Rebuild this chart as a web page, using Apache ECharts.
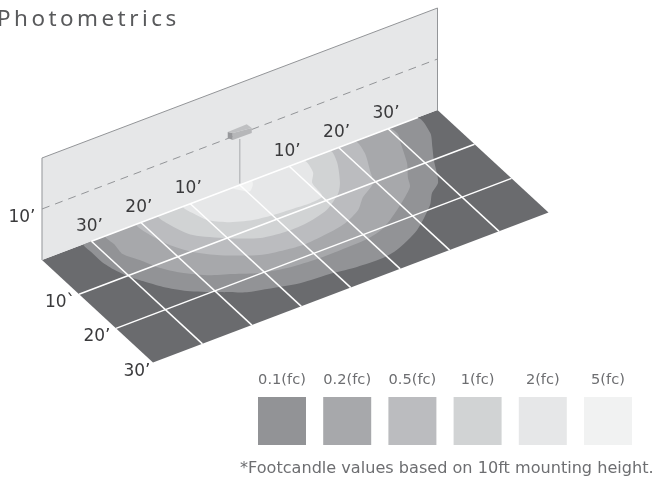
<!DOCTYPE html>
<html><head><meta charset="utf-8">
<style>html,body{margin:0;padding:0;background:#fff}#c{width:654px;height:479px}</style>
<script src="https://cdn.jsdelivr.net/npm/echarts@6/dist/echarts.min.js"></script>
</head><body><div id="c"></div>
<script>
// ---- text ----
const titleText = 'Photometrics';
const footnote = '*Footcandle values based on 10ft mounting height.';
const legendLabels = ['0.1(fc)','0.2(fc)','0.5(fc)','1(fc)','2(fc)','5(fc)'];
const legendColors = ['#929396','#a7a8ab','#bbbcbf','#d1d3d4','#e6e7e8','#f1f2f2'];
const alongLabels = [[-30,'30’'],[-20,'20’'],[-10,'10’'],[10,'10’'],[20,'20’'],[30,'30’']];
const outLabels = [[10,'10`'],[20,'20’'],[30,'30’']];
const heightLabels = [[10,'10’']];
// ---- floor and wall, in feet: u along the wall, v out from it, h height ----
const floorU = [-40,40];
const floorDepth = 30;
const wallHeight = 20;
const mountHeight = 10;
const gridU = [-30,-20,-10,0,10,20,30];
const gridV = [10,20];
const wallLitU = [-30,36];
const poleH = [0.3,9];
const lampEnd = [[-2.43,11.3],[-1.42,10.7],[-1.42,9.35],[-2.43,10.1]];
const lampFront = [[-1.42,10.7],[2.43,10.3],[2.43,9.3],[-1.42,9.35]];
const lampTop = [[-2.43,11.3],[1.42,11.4],[2.43,10.3],[-1.42,10.7]];
// ---- footcandle contours, [u,v] in feet ----
const contour01 = [[-31.5,0],[-31.7,2.5],[-31.7,5.1],[-31.1,7.8],[-30.2,10.1],[-28.8,12.3],[-26.8,15.1],[-24,17.8],[-19.9,20.4],[-15.6,22.8],[-12.2,23.7],[-6.6,25.1],[-0.3,25.6],[4.1,26.2],[9.2,26.4],[12.5,25.8],[18.4,23.3],[24.2,19.1],[26.3,16.8],[28.9,15],[31.7,10.1],[33.5,7.3],[35.4,4.2],[35.8,0]];
const contour02 = [[-27.1,0],[-27.2,2.6],[-27.5,5.1],[-26,7.7],[-24.6,10.5],[-22.5,13.1],[-18.7,16.1],[-14.8,17.9],[-10.8,19.8],[-5.5,21],[-0.4,21.4],[4.3,21.4],[9.9,21.2],[14.2,20.1],[19.4,17.1],[24.1,13.8],[25.2,11.8],[27.4,8.6],[29.7,3.7],[30.6,1.9],[30.2,0]];
const contour05 = [[-20.8,0],[-20.6,3.3],[-19.3,7],[-17.1,10.2],[-13.7,13],[-8,16.1],[-3.6,17],[0.2,17.4],[5.6,16.9],[9.2,16.2],[13.1,14.5],[15.8,12.2],[19.4,10.1],[21,7.1],[22.9,3.2],[23.2,0]];
const contour1 = [[-16.4,0],[-16.2,2.8],[-14.5,6.7],[-10.1,10],[-5.3,12.6],[-0.8,13.3],[3.3,13.2],[8.6,12],[12.9,9.4],[14.8,7.3],[17.5,2.9],[18.2,0]];
const contour2 = [[-11.4,0],[-11.1,2.1],[-10.1,4.7],[-7.6,6.7],[-3.5,8.3],[0.8,8.9],[4.4,9.1],[7.3,9.3],[10.1,8.8],[10.7,5.3],[12.5,3.1],[12.9,0]];
const contour5 = [[-1.4,0],[-0.75,1.1],[0.5,2.1],[1.9,1],[2.4,0]];
const contours = [contour01,contour02,contour05,contour1,contour2,contour5];

// oblique view of the room onto the chart's two hidden axes (feet)
function project(u,v,h){ return [u+0.7484*v, (h||0)+0.3676*u-0.6706*v]; }

const FONT = '"DejaVu Sans"';
const TEXT = '#3a3a3c', SOFT = '#6d6e71';
const [uA,uB] = floorU;
const shapes = [];
const poly = (pts,fill,smooth) => shapes.push({t:'polygon',pts,fill,smooth});
const line = (pts,stroke,lw,dash) => shapes.push({t:'polyline',pts,stroke,lw,dash});
// floor
poly([[uA,0,0],[uB,0,0],[uB,floorDepth,0],[uA,floorDepth,0]],'#6a6b6e');
contours.forEach((c,i)=>poly(c.map(p=>[p[0],p[1],0]),legendColors[i],0.25));
// wall
poly([[uA,0,0],[uB,0,0],[uB,0,wallHeight],[uA,0,wallHeight]],'#e6e7e8');
line([[uA,0,0],[uA,0,wallHeight],[uB,0,wallHeight],[uB,0,0]],'#939598',1);
line([[uA,0,mountHeight],[uB,0,mountHeight]],'#939598',1,[8,6]);
// pole and lamp
line([[0,0,poleH[0]],[0,0,poleH[1]]],'#bcbec0',1.5);
poly(lampEnd.map(p=>[p[0],0,p[1]]),'#97989b');
poly(lampFront.map(p=>[p[0],0,p[1]]),'#b6b7b9');
poly(lampTop.map(p=>[p[0],0,p[1]]),'#bfc0c2');
// white floor grid
gridU.forEach(u=>line([[u,0,0],[u,floorDepth,0]],'#fff',1.5));
gridV.forEach(v=>line([[uA,v,0],[uB,v,0]],'#fff',1.5));
line([[wallLitU[0],0,0],[wallLitU[1],0,0]],'#fff',1.5);
// labels
const labels = [];
alongLabels.forEach(l=>labels.push({p:[l[0],0,0],s:l[1],dx:-2,dy:-15}));
outLabels.forEach((l,i)=>labels.push({p:[uA,l[0],0],s:l[1],dx:i==2?-16:-19,dy:8.5}));
heightLabels.forEach(l=>labels.push({p:[uA,0,l[0]],s:l[1],dx:-20,dy:9}));

const chart = echarts.init(document.getElementById('c'),null,{renderer:'canvas'});
// spaced-out title: canvas letter spacing for that one string
const proto = CanvasRenderingContext2D.prototype, origFill = proto.fillText;
proto.fillText = function(t,x,y,m){
  if(t===titleText){ this.letterSpacing='3.5px'; origFill.call(this,t,x,y); this.letterSpacing='0px'; }
  else origFill.call(this,t,x,y);
};
const graphic = [
  {type:'text',left:-3,top:9,style:{text:titleText,font:'22.4px "Noto Sans"',fill:'#58595b'}},
  {type:'text',left:240,top:461,style:{text:footnote,font:'16.1px '+FONT,fill:SOFT}}
];
legendLabels.forEach((s,i)=>{
  const x = 258+i*65.2;
  graphic.push({type:'rect',shape:{x:x,y:397,width:48,height:48},style:{fill:legendColors[i]}});
  graphic.push({type:'text',x:x+24,y:380,style:{text:s,font:'14.6px '+FONT,fill:SOFT,align:'center',verticalAlign:'middle'}});
});
chart.setOption({
  animation:false,
  backgroundColor:'#fff',
  grid:{left:0,right:0,top:0,bottom:0},
  xAxis:{type:'value',min:-48.495,max:83.79,show:false},
  yAxis:{type:'value',min:-57.645,max:36.275,show:false},
  graphic:graphic,
  series:[
   {type:'custom',silent:true,clip:false,data:shapes.map((s,i)=>[i]),encode:{x:0},
    renderItem(params,api){
      const s = shapes[params.dataIndex];
      const points = s.pts.map(p=>api.coord(project(p[0],p[1],p[2])));
      if(s.t==='polygon') return {type:'polygon',shape:{points,smooth:s.smooth||0},style:{fill:s.fill}};
      return {type:'polyline',shape:{points},style:{fill:null,stroke:s.stroke,lineWidth:s.lw,lineDash:s.dash||null}};
    }},
   {type:'custom',silent:true,clip:false,data:labels.map((s,i)=>[i]),encode:{x:0},
    renderItem(params,api){
      const l = labels[params.dataIndex];
      const c = api.coord(project(l.p[0],l.p[1],l.p[2]));
      return {type:'text',style:{text:l.s,x:c[0]+l.dx,y:c[1]+l.dy,font:'17px '+FONT,fill:TEXT,align:'center',verticalAlign:'middle'}};
    }}
  ]
});
</script></body></html>
